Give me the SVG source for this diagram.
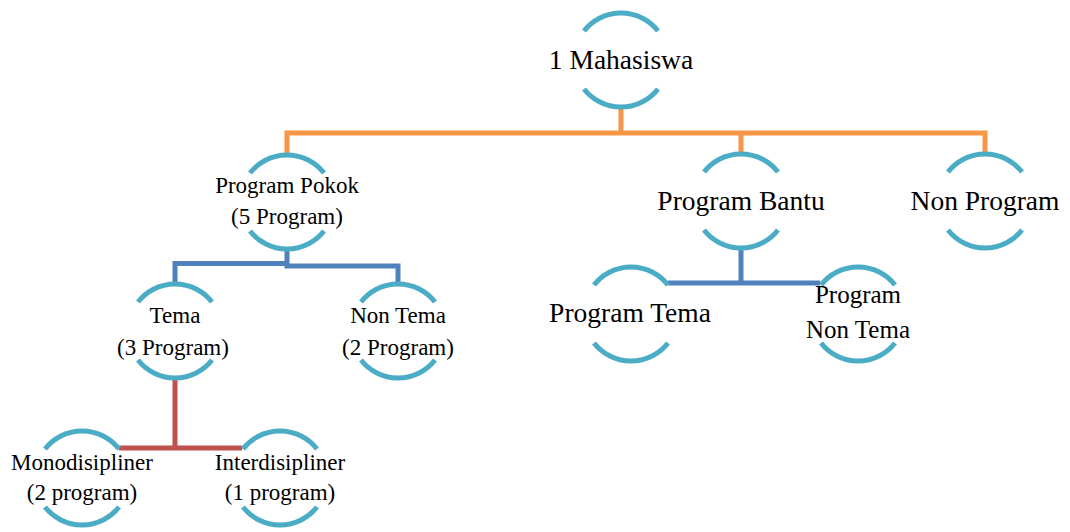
<svg xmlns="http://www.w3.org/2000/svg" width="1070" height="532" viewBox="0 0 1070 532">
<style>
.arc{fill:none;stroke:#4BACC6;stroke-width:5}
.c{fill:none;stroke-width:5;stroke-linejoin:miter}
.o{stroke:#F79646}.b{stroke:#4F81BD}.r{stroke:#C0504D}
text{font-family:"Liberation Serif","DejaVu Serif",serif;fill:#000;text-anchor:middle}
.L{font-size:27.5px}.M{font-size:23px}.N{font-size:25px}
</style>
<defs>
<path id="ring" class="arc" d="M-37,-29 A47,47 0 0 1 37,-29 M-37,29 A47,47 0 0 0 37,29"/>
</defs>
<g id="connectors">
<path class="c o" d="M287,156 V133 H985 V155 M621,107 V133 M741,133 V155"/>
<path class="c b" d="M175,285 V263.5 H287 M287,249 V266 H398 V285"/>
<path class="c b" d="M741,248 V283 M668,283 H820"/>
<path class="c r" d="M175,378 V448 M119,448 H242"/>
</g>
<g id="n-mahasiswa"><use href="#ring" x="621" y="60"/><text class="L" x="621" y="69">1 Mahasiswa</text></g>
<g id="n-pokok"><use href="#ring" x="287" y="202"/><text class="M" x="287" y="193">Program Pokok</text><text class="M" x="287" y="224">(5 Program)</text></g>
<g id="n-bantu"><use href="#ring" x="741" y="201"/><text class="L" x="741" y="210">Program Bantu</text></g>
<g id="n-nonprogram"><use href="#ring" x="985" y="201"/><text class="L" x="985" y="210">Non Program</text></g>
<g id="n-tema"><use href="#ring" x="175" y="331"/><text class="M" x="175" y="323">Tema</text><text class="M" x="173" y="355">(3 Program)</text></g>
<g id="n-nontema"><use href="#ring" x="398" y="331"/><text class="M" x="398" y="323">Non Tema</text><text class="M" x="398" y="355">(2 Program)</text></g>
<g id="n-programtema"><use href="#ring" x="631" y="314"/><text class="L" x="630" y="322">Program Tema</text></g>
<g id="n-programnontema"><use href="#ring" x="858" y="314"/><text class="N" x="858" y="303">Program</text><text class="N" x="858" y="338">Non Tema</text></g>
<g id="n-mono"><use href="#ring" x="82" y="478"/><text class="M" x="82" y="470">Monodisipliner</text><text class="M" x="82" y="500">(2 program)</text></g>
<g id="n-inter"><use href="#ring" x="280" y="478"/><text class="M" x="280" y="470">Interdisipliner</text><text class="M" x="280" y="500">(1 program)</text></g>
</svg>
